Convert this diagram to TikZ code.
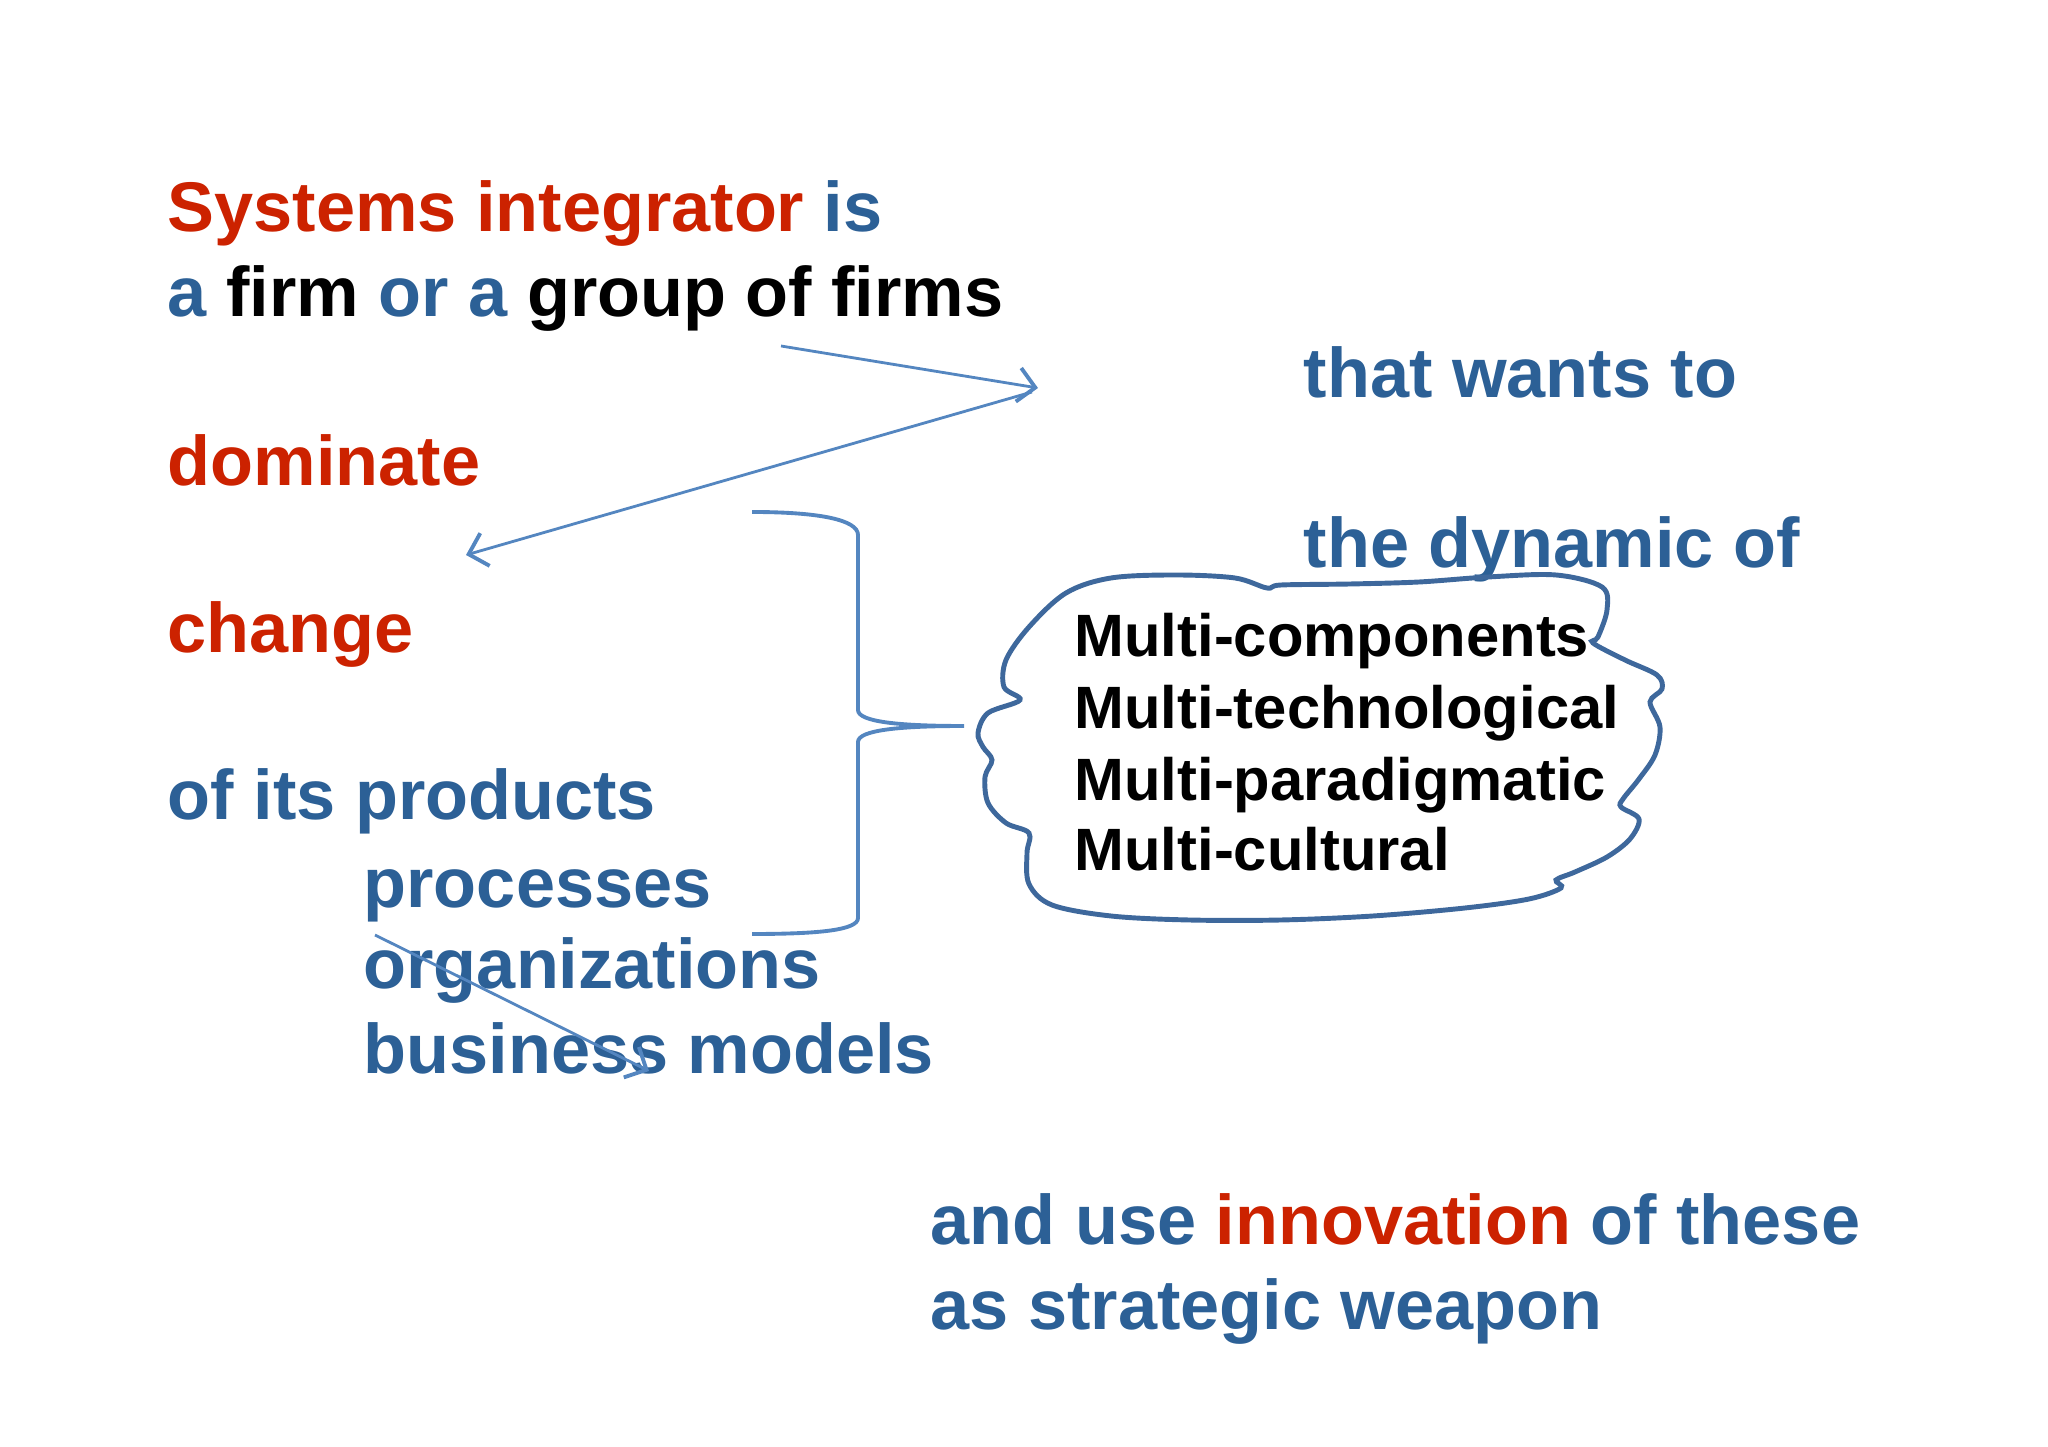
\documentclass[tikz,border=0pt]{standalone}
\usepackage{fontspec}
\setmainfont{Liberation Sans}
\usepackage{tikz}
\usetikzlibrary{positioning,arrows.meta}
\definecolor{sired}{RGB}{204,34,0}
\definecolor{siblue}{RGB}{44,96,150}
\definecolor{penblue}{RGB}{84,134,192}
\definecolor{cloudblue}{RGB}{62,104,156}
\newcommand{\rd}[1]{\textcolor{sired}{#1}}
\newcommand{\bk}[1]{\textcolor{black}{#1}}
\tikzset{
  penarrow/.style={-{Straight Barb[length=1.7mm, width=3.4mm, line width=1.1pt]}, draw=penblue, line width=0.8pt},
  bracepen/.style={draw=penblue, line width=1.1pt},
  cloudpen/.style={draw=cloudblue, line width=1.4pt},
  slide/.style={anchor=base west, inner sep=0pt, text=siblue, font=\bfseries\fontsize{20}{24}\selectfont},
  listtext/.style={slide, text=black, font=\bfseries\fontsize{17}{20}\selectfont}
}
\begin{document}
\begin{tikzpicture}
  \useasboundingbox (0,0) rectangle (20.48,-14.47);
  \node[slide] (sysint) at (1.67,-2.32) {\rd{Systems integrator} is};
  \node[slide] (firms) at (1.67,-3.17) {a \bk{firm} or a \bk{group of firms}};
  \node[slide, text=sired] (dominate) at (1.67,-4.86) {dominate};
  \node[slide, text=sired] (change) at (1.67,-6.53) {change};
  \node[slide] (products) at (1.67,-8.20) {of its products};
  \node[slide] (processes) at (3.63,-9.08) {processes};
  \node[slide] (orgs) at (3.63,-9.89) {organizations};
  \node[slide] (bizmodels) at (3.63,-10.74) {business models};
  \node[slide] (wants) at (13.03,-3.98) {that wants to};
  \node[slide] (dynamic) at (13.03,-5.68) {the dynamic of};
  \node[slide] (usage) at (9.30,-12.45) {and use \rd{innovation} of these};
  \node[slide] (weapon) at (9.30,-13.30) {as strategic weapon};

  \draw[cloudpen] plot[smooth cycle, tension=0.55] coordinates {
    (9.78,-7.33) (9.88,-7.13) (10.20,-7.00) (10.04,-6.87) (10.06,-6.60)
    (10.29,-6.27) (10.66,-5.93) (11.11,-5.78) (11.76,-5.75) (12.35,-5.78)
    (12.67,-5.88) (12.81,-5.85) (13.50,-5.84) (14.19,-5.82) (14.88,-5.77)
    (15.56,-5.75) (16.02,-5.87) (16.07,-6.10) (15.98,-6.37) (15.93,-6.43)
    (16.25,-6.60) (16.57,-6.75) (16.62,-6.89) (16.50,-7.02) (16.60,-7.27)
    (16.55,-7.55) (16.39,-7.79) (16.23,-7.99) (16.21,-8.07) (16.39,-8.19)
    (16.30,-8.39) (16.07,-8.57) (15.75,-8.72) (15.56,-8.80) (15.61,-8.88)
    (15.29,-8.99) (14.65,-9.08) (13.73,-9.16) (12.81,-9.20) (11.89,-9.20)
    (11.11,-9.16) (10.52,-9.05) (10.29,-8.84) (10.27,-8.53) (10.29,-8.33)
    (10.06,-8.23) (9.88,-8.03) (9.85,-7.77) (9.92,-7.60) (9.83,-7.47)};
  \node[listtext] (mcomp) at (10.74,-6.57) {Multi-components};
  \node[listtext] (mtech) at (10.74,-7.29) {Multi-technological};
  \node[listtext] (mpara) at (10.74,-8.01) {Multi-paradigmatic};
  \node[listtext] (mcult) at (10.74,-8.71) {Multi-cultural};

  \coordinate (bracetip) at (9.64,-7.26);
  \draw[bracepen] (7.52,-5.12) .. controls (8.20,-5.12) and (8.58,-5.20) .. (8.58,-5.35)
    -- (8.58,-7.10) .. controls (8.58,-7.22) and (9.00,-7.26) .. (bracetip)
    .. controls (9.00,-7.26) and (8.58,-7.30) .. (8.58,-7.42)
    -- (8.58,-9.18) .. controls (8.58,-9.30) and (8.20,-9.34) .. (7.52,-9.34);

  \coordinate (fromfirms) at (7.81,-3.46);
  \coordinate (bend) at (10.38,-3.88);
  \coordinate (bendback) at (10.32,-3.92);
  \coordinate (todominate) at (4.66,-5.55);
  \coordinate (orgstart) at (3.75,-9.35);
  \coordinate (orgend) at (6.49,-10.71);
  \draw[penarrow] (fromfirms) -- (bend);
  \draw[penarrow] (bendback) -- (todominate);
  \draw[penarrow] (orgstart) -- (orgend);
\end{tikzpicture}
\end{document}
